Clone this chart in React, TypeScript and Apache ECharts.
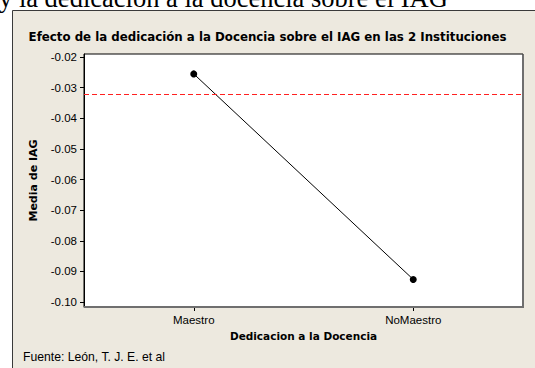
import React, { useEffect, useRef } from "react";
import * as echarts from "echarts";

const categories = ["Maestro", "NoMaestro"];
const meanValues = [-0.0255, -0.0926];
const referenceValue = -0.032;
const yTicks = [-0.1, -0.09, -0.08, -0.07, -0.06, -0.05, -0.04, -0.03, -0.02];
const yMin = -0.1016;
const yMax = -0.019;

const titleText = "Efecto de la dedicación a la Docencia sobre el IAG en las 2 Instituciones";
const captionText = "y la dedicación a la docencia sobre el IAG";
const footerText = "Fuente: León, T. J. E. et al";
const xName = "Dedicacion a la Docencia";
const yName = "Media de IAG";

const FONT = "'Liberation Sans', Arial, sans-serif";
const BOLD_FONT = "'DejaVu Sans', Verdana, sans-serif";

export default function App() {
  const ref = useRef<HTMLDivElement>(null);
  useEffect(() => {
    if (!ref.current) return;
    const chart = echarts.init(ref.current, undefined, { renderer: "svg" });
    const redLine = { color: "#ff2020", width: 1, type: [5, 3] as number[] };
    chart.setOption({
      animation: false,
      backgroundColor: "#ffffff",
      textStyle: { fontFamily: FONT },
      title: {
        text: titleText,
        left: "center",
        top: 26,
        textStyle: { fontFamily: BOLD_FONT, fontSize: 11.8, fontWeight: "bold", color: "#000" },
      },
      graphic: [
        {
          type: "rect",
          z: -100,
          shape: { x: 12.5, y: 10.5, width: 540, height: 380 },
          style: { fill: "#EDE9DF", stroke: "#3a3a3a", lineWidth: 1 },
        },
        {
          type: "text",
          z: 100,
          x: -1,
          y: 11,
          style: {
            text: captionText,
            font: "26.5px 'Liberation Serif', 'Times New Roman', serif",
            fill: "#000",
            verticalAlign: "bottom",
          },
        },
        {
          type: "text",
          x: 23,
          y: 357,
          style: {
            text: footerText,
            font: "12.2px " + FONT,
            fill: "#000",
            verticalAlign: "middle",
          },
        },
        {
          type: "polyline",
          z: 100,
          shape: { points: [[523, 54.5], [523, 307], [84, 307]] },
          style: { stroke: "#6f6f6f", lineWidth: 2, fill: "none" },
        },
      ],
      grid: {
        left: 84,
        top: 54,
        right: 12,
        bottom: 61,
        show: true,
        backgroundColor: "#ffffff",
        borderColor: "#000",
        borderWidth: 1,
      },
      xAxis: {
        type: "category",
        data: categories,
        boundaryGap: true,
        name: xName,
        nameLocation: "middle",
        nameGap: 23,
        nameTextStyle: { fontFamily: BOLD_FONT, fontSize: 10.5, fontWeight: "bold", color: "#000" },
        axisLine: { show: true, lineStyle: { color: "#6f6f6f", width: 1 } },
        axisTick: { show: true, alignWithLabel: true, length: 4, inside: false, lineStyle: { color: "#000" } },
        axisLabel: { fontSize: 11.5, color: "#000", margin: 7, fontFamily: FONT },
        splitLine: { show: false },
      },
      yAxis: {
        type: "value",
        min: yMin,
        max: yMax,
        name: yName,
        nameLocation: "middle",
        nameGap: 45,
        nameRotate: 90,
        nameTextStyle: { fontFamily: BOLD_FONT, fontSize: 11, fontWeight: "bold", color: "#000" },
        axisLine: { show: true, lineStyle: { color: "#000", width: 1 } },
        axisTick: { show: true, length: 4, customValues: yTicks, lineStyle: { color: "#000" } },
        axisLabel: {
          fontSize: 11.5,
          color: "#000",
          margin: 7,
          fontFamily: FONT,
          customValues: yTicks,
          formatter: (v: number) => v.toFixed(2),
        },
        splitLine: { show: false },
      },
      series: [
        {
          type: "line",
          data: meanValues,
          symbol: "circle",
          symbolSize: 7,
          itemStyle: { color: "#000" },
          lineStyle: { color: "#000", width: 1 },
          markLine: {
            silent: true,
            precision: 4,
            symbol: ["none", "none"],
            label: { show: false },
            lineStyle: redLine,
            data: [{ yAxis: referenceValue, lineStyle: redLine }],
          },
        },
      ],
    });
    return () => chart.dispose();
  }, []);
  return (
    <div
      ref={ref}
      style={{ position: "fixed", left: 0, top: 0, width: 535, height: 368 }}
    />
  );
}
